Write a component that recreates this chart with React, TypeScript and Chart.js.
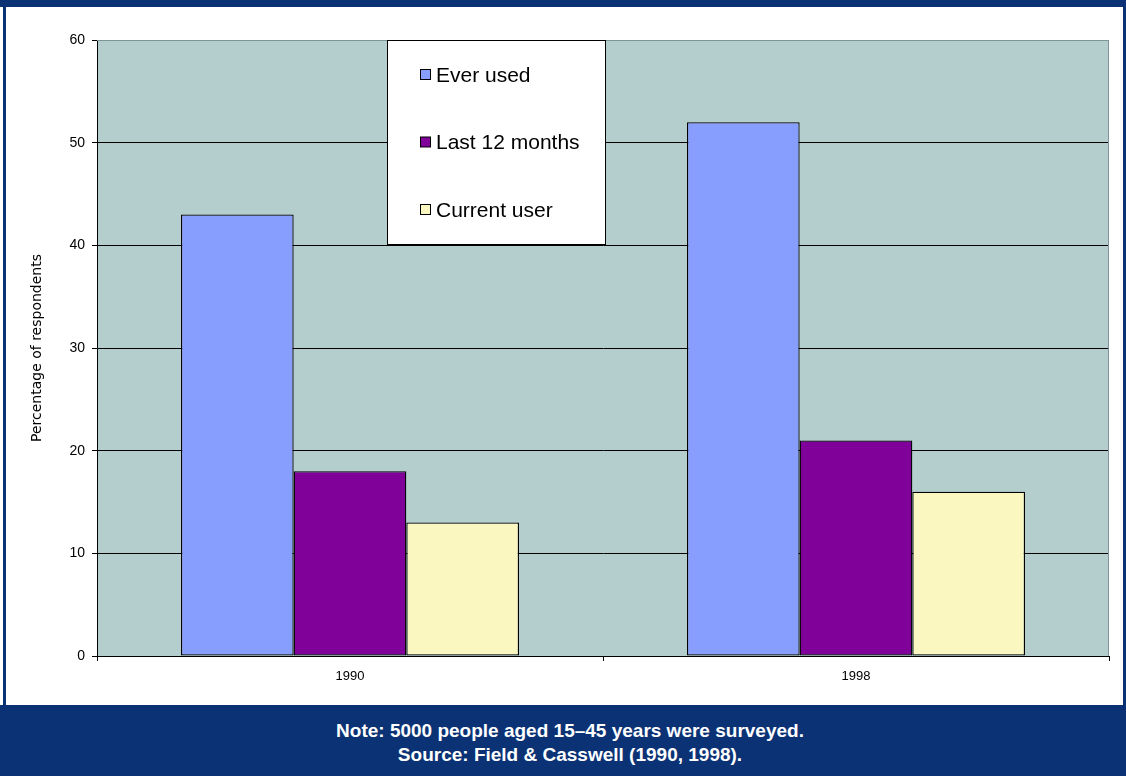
import React, { useEffect, useRef } from "react";
import { Chart, registerables } from "chart.js";

Chart.register(...registerables);

const years = ["1990", "1998"];
const seriesNames = ["Ever used", "Last 12 months", "Current user"];
const everUsed = [43, 52];
const last12Months = [18, 21];
const currentUser = [13, 16];
const seriesColors = ["#879EFF", "#80009A", "#FAF8C0"];
const yTicks = [0, 10, 20, 30, 40, 50, 60];

const NAVY = "#0B3275";

// Fills the plot area and outlines its top and right edges.
const plotBackground = {
  id: "plotBackground",
  beforeDraw(chart: any) {
    const { ctx, chartArea } = chart;
    const { left, top, right, bottom } = chartArea;
    ctx.save();
    ctx.fillStyle = "#B4CDCD";
    ctx.fillRect(left, top, right - left, bottom - top);
    ctx.restore();
  },
  afterDatasetsDraw(chart: any) {
    const { ctx, chartArea } = chart;
    const { left, top, right, bottom } = chartArea;
    ctx.save();
    ctx.strokeStyle = "#7E9494";
    ctx.lineWidth = 1;
    ctx.beginPath();
    ctx.moveTo(left, top + 0.5);
    ctx.lineTo(right - 0.5, top + 0.5);
    ctx.lineTo(right - 0.5, bottom);
    ctx.stroke();
    ctx.restore();
  },
};

// Boxed legend sitting inside the plot area, one entry per row.
const boxedLegend = {
  id: "boxedLegend",
  afterDraw(chart: any) {
    const { ctx, chartArea } = chart;
    const x0 = chartArea.left + 290;
    const y0 = chartArea.top;
    const w = 219;
    const h = 205;
    ctx.save();
    ctx.fillStyle = "#FFFFFF";
    ctx.fillRect(x0, y0, w, h);
    ctx.strokeStyle = "#000000";
    ctx.lineWidth = 1;
    ctx.strokeRect(x0 + 0.5, y0 + 0.5, w - 1, h - 1);
    ctx.font = "21px Arial, 'Liberation Sans', sans-serif";
    ctx.textBaseline = "middle";
    ctx.textAlign = "left";
    chart.data.datasets.forEach((ds: any, i: number) => {
      const cy = y0 + 35 + i * 67.5;
      ctx.fillStyle = ds.backgroundColor;
      ctx.fillRect(x0 + 33.5, cy - 5.5, 10, 10);
      ctx.strokeStyle = "#000000";
      ctx.strokeRect(x0 + 33.5, cy - 5.5, 10, 10);
      ctx.fillStyle = "#000000";
      ctx.fillText(ds.label, x0 + 49, cy + 1);
    });
    ctx.restore();
  },
};

function BarChart() {
  const canvasRef = useRef<HTMLCanvasElement | null>(null);

  useEffect(() => {
    if (!canvasRef.current) return;
    const values = [everUsed, last12Months, currentUser];
    const chart = new Chart(canvasRef.current, {
      type: "bar",
      data: {
        labels: years,
        datasets: seriesNames.map((name, i) => ({
          label: name,
          data: values[i],
          backgroundColor: seriesColors[i],
          borderColor: "#000000",
          borderWidth: 1.3,
          borderSkipped: false,
          barPercentage: 1,
          categoryPercentage: 0.668,
        })),
      },
      options: {
        animation: false,
        responsive: false,
        maintainAspectRatio: false,
        layout: { padding: { top: 40, right: 17, left: 0, bottom: 9 } },
        plugins: {
          legend: { display: false },
          tooltip: { enabled: false },
          title: { display: false },
        },
        scales: {
          x: {
            grid: {
              offset: true,
              drawOnChartArea: false,
              drawTicks: true,
              tickLength: 5,
              color: "#000000",
            },
            border: { color: "#000000", width: 1 },
            ticks: {
              color: "#000000",
              padding: 8,
              font: { family: "Arial, 'Liberation Sans', sans-serif", size: 13 },
            },
            afterFit(scale: any) {
              scale.height = 40;
            },
          },
          y: {
            min: 0,
            max: 60,
            afterBuildTicks(scale: any) {
              scale.ticks = yTicks.map((v) => ({ value: v }));
            },
            grid: {
              color: (c: any) => (c.tick && c.tick.value === 60 ? "#9AAAAA" : "#000000"),
              tickColor: "#000000",
              drawTicks: true,
              tickLength: 5,
            },
            border: { color: "#000000", width: 1 },
            ticks: {
              color: "#000000",
              padding: 7,
              font: { family: "Arial, 'Liberation Sans', sans-serif", size: 14 },
            },
            title: {
              display: true,
              text: "Percentage of respondents",
              color: "#000000",
              font: { family: "'DejaVu Sans', sans-serif", size: 14 },
              padding: { top: 29, bottom: 0 },
            },
            afterFit(scale: any) {
              scale.width = 97;
            },
          },
        },
      },
      plugins: [plotBackground, boxedLegend],
    });
    return () => chart.destroy();
  }, []);

  return <canvas ref={canvasRef} width={1126} height={705} style={{ display: "block" }} />;
}

export default function App() {
  useEffect(() => {
    document.body.style.margin = "0";
  }, []);

  return (
    <div
      style={{
        position: "relative",
        width: 1126,
        height: 776,
        background: "#FFFFFF",
        overflow: "hidden",
        fontFamily: "Arial, 'Liberation Sans', sans-serif",
      }}
    >
      <div style={{ position: "absolute", left: 0, top: 0, width: 1126, height: 7, background: NAVY }} />
      <div style={{ position: "absolute", left: 3, top: 0, width: 3, height: 776, background: NAVY }} />
      <div style={{ position: "absolute", left: 1123, top: 0, width: 3, height: 776, background: NAVY }} />
      <div style={{ position: "absolute", left: 0, top: 0 }}>
        <BarChart />
      </div>
      <div
        style={{
          position: "absolute",
          left: 0,
          top: 705,
          width: 1126,
          height: 71,
          background: NAVY,
          color: "#FFFFFF",
          fontWeight: "bold",
          fontSize: 19,
          lineHeight: "24px",
          textAlign: "center",
          paddingTop: 14,
          paddingLeft: 14,
          boxSizing: "border-box",
        }}
      >
        <div>Note: 5000 people aged 15–45 years were surveyed.</div>
        <div>Source: Field &amp; Casswell (1990, 1998).</div>
      </div>
    </div>
  );
}
